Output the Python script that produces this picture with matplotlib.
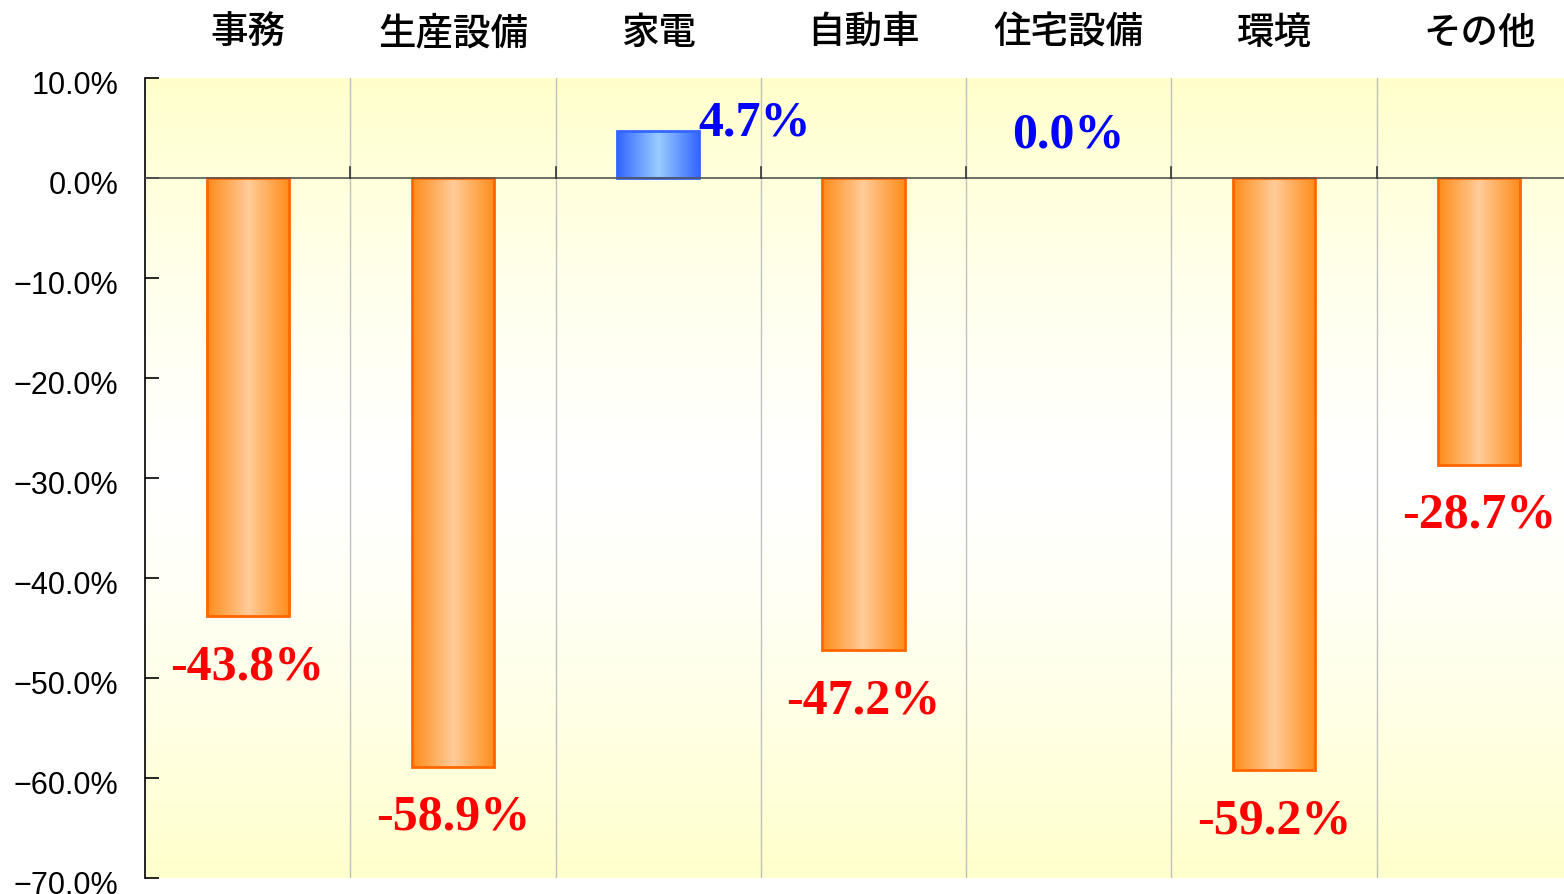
import matplotlib
matplotlib.use('Agg')
import matplotlib.pyplot as plt
import numpy as np
from matplotlib.colors import LinearSegmentedColormap
from matplotlib.transforms import ScaledTranslation

# %% data
categories = ['事務', '生産設備', '家電', '自動車', '住宅設備', '環境', 'その他']
values = [-43.8, -58.9, 4.7, -47.2, 0.0, -59.2, -28.7]
yticks = [10, 0, -10, -20, -30, -40, -50, -60, -70]

# %% figure
fig = plt.figure(figsize=(15.64, 8.95), dpi=100)
ax = fig.add_axes([145 / 1564, 16 / 895, 1437 / 1564, 800 / 895])
ax.set_xlim(-0.5, len(categories) - 0.5)
ax.set_ylim(-70, 10)

# background: yellow at top and bottom, white in the middle
bg_cmap = LinearSegmentedColormap.from_list('bg', ['#FFFFFF', '#FFFFCC'])
grad = np.abs(np.linspace(-1, 1, 256)) ** 1.3
ax.imshow(grad.reshape(-1, 1) * np.ones((1, 2)), extent=[-0.5, len(categories) - 0.5, -70, 10],
          aspect='auto', cmap=bg_cmap, vmin=0, vmax=1, zorder=0, origin='lower')

# vertical separators between categories
for i in range(1, len(categories)):
    ax.axvline(i - 0.5, color='#C0C0C0', lw=1, zorder=1)

# bars with horizontal gradient
orange = LinearSegmentedColormap.from_list('o', ['#FF8C1A', '#FFCC99', '#FF8C1A'])
blue = LinearSegmentedColormap.from_list('b', ['#3366FF', '#99CCFF', '#3366FF'])
bars = ax.bar(range(len(categories)), values, width=0.4, zorder=2)
hgrad = np.linspace(0, 1, 128).reshape(1, -1)
for b, v in zip(bars, values):
    if v == 0:
        b.set_visible(False)
        continue
    cm = blue if v > 0 else orange
    ec = '#3366FF' if v > 0 else '#FF6600'
    b.set_facecolor('none')
    b.set_edgecolor(ec)
    b.set_linewidth(2)
    x0 = b.get_x()
    im = ax.imshow(hgrad, extent=[x0, x0 + b.get_width(), min(0, v), max(0, v)],
                   aspect='auto', cmap=cm, zorder=2, interpolation='bilinear')
    im.set_clip_path(b)
    b.set_zorder(3)

# zero line with small ticks
ax.axhline(0, color='#555555', lw=1.2, zorder=4)
for i in range(1, len(categories)):
    ax.plot([i - 0.5, i - 0.5], [0, 1.1], color='#333333', lw=1.2, zorder=4)

# data labels
lab = dict(fontsize=36, fontweight='bold', family='Liberation Serif', ha='center', va='center', zorder=5)
for i, v in enumerate(values):
    if v > 0:
        ax.text(i + 0.47, v + 0.8, f'{v:.1f}%', color='#0000FF', **lab)
    elif v == 0:
        ax.text(i, 4.4, f'{v:.1f}%', color='#0000FF', **lab)
    else:
        ax.text(i, v - 5.0, f'{v:.1f}%', color='#FF0000', **lab)

# category labels above the plot
for i, c in enumerate(categories):
    ax.text(i, 1.0 + 46 / 800, c, transform=ax.get_xaxis_transform(), fontsize=27,
            family=['Noto Sans CJK JP', 'DejaVu Sans'], fontweight='medium',
            ha='center', va='center')

# axes styling
ax.set_yticks(yticks)
ax.set_yticklabels([f'{t:.1f}%'.replace('-', '\u2212') for t in yticks],
                   fontsize=22, family='Liberation Sans')
ax.tick_params(axis='y', direction='in', length=10, width=1.2, pad=19)
shift = ScaledTranslation(0, -4 / 100, fig.dpi_scale_trans)
for t in ax.get_yticklabels():
    t.set_transform(t.get_transform() + shift)
ax.set_xticks([])
for s in ['top', 'right', 'bottom']:
    ax.spines[s].set_visible(False)
ax.spines['left'].set_linewidth(1.2)

fig.savefig('out.png', dpi=100, facecolor='white')
